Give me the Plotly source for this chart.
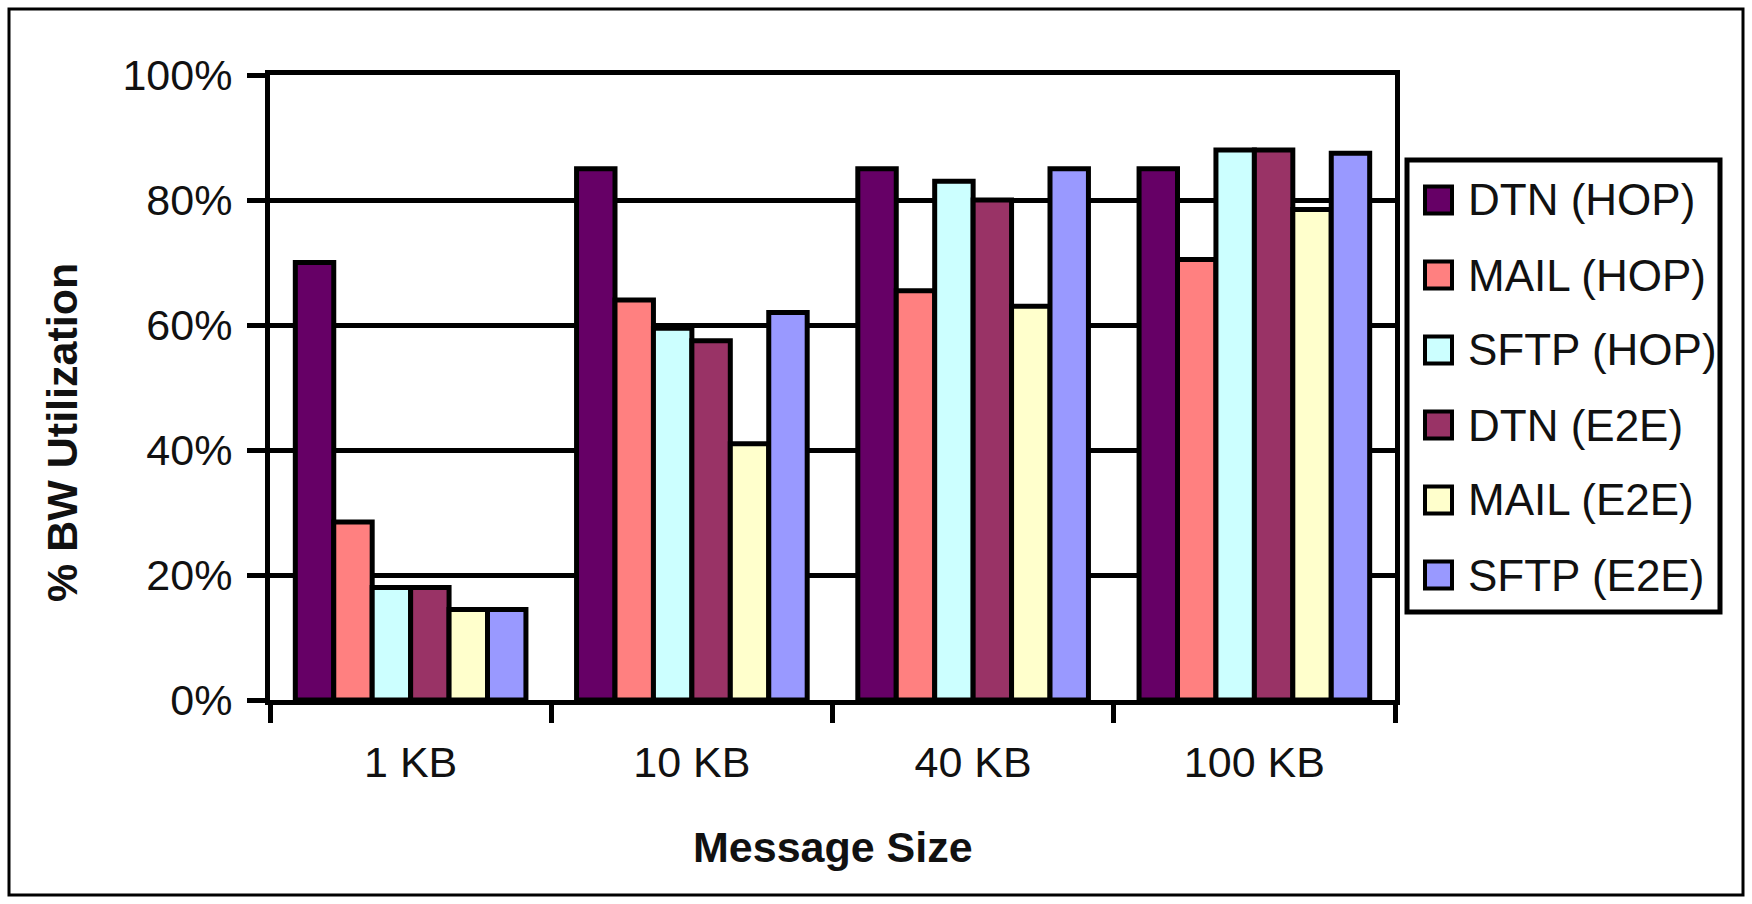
import plotly.graph_objects as go

# Message sizes on the category axis
categories = ["1 KB", "10 KB", "40 KB", "100 KB"]

# Bandwidth utilisation (%) per protocol, per message size
series_names = ["DTN (HOP)", "MAIL (HOP)", "SFTP (HOP)", "DTN (E2E)", "MAIL (E2E)", "SFTP (E2E)"]
dtn_hop = [70, 85, 85, 85]
mail_hop = [28.5, 64, 65.5, 70.5]
sftp_hop = [18, 59.5, 83, 88]
dtn_e2e = [18, 57.5, 80, 88]
mail_e2e = [14.5, 41, 63, 78.5]
sftp_e2e = [14.5, 62, 85, 87.5]

y_ticks = [0, 20, 40, 60, 80, 100]
y_tick_labels = ["0%", "20%", "40%", "60%", "80%", "100%"]

series_values = [dtn_hop, mail_hop, sftp_hop, dtn_e2e, mail_e2e, sftp_e2e]
colors = ["#660066", "#FF8080", "#CCFFFF", "#993366", "#FFFFCC", "#9999FF"]

FONT = "Liberation Sans, Arial, Helvetica, sans-serif"
INK = "#111111"

fig = go.Figure()

for name, vals, col in zip(series_names, series_values, colors):
    fig.add_trace(go.Bar(
        x=categories, y=vals, name=name,
        marker=dict(color=col, line=dict(color="black", width=5)),
        showlegend=False,
    ))

# Figure geometry in pixels
W, H = 1752, 904
L, R, T, B = 270, W - 1395, 75, H - 700
pw, ph = W - L - R, H - T - B

def px_x(x):
    return (x - L) / pw

def px_y(y):
    return (H - B - y) / ph

shapes = [
    # outer frame around the whole figure
    dict(type="rect", xref="paper", yref="paper",
         x0=px_x(9), x1=px_x(1743), y0=px_y(895), y1=px_y(9),
         line=dict(color="black", width=3), fillcolor="rgba(0,0,0,0)",
         layer="below"),
]
annotations = [
    dict(text="<b>% BW Utilization</b>", textangle=-90,
         xref="paper", yref="paper", x=px_x(62), y=px_y(433),
         xanchor="center", yanchor="middle", showarrow=False,
         font=dict(family=FONT, size=43, color=INK)),
    dict(text="<b>Message Size</b>",
         xref="paper", yref="paper", x=0.5, y=px_y(847),
         xanchor="center", yanchor="middle", showarrow=False,
         font=dict(family=FONT, size=43, color=INK)),
]

# Legend box with one swatch + label per series
LEG_X0, LEG_X1, LEG_Y0, LEG_Y1 = 1407, 1720, 160, 612
ROW0, ROW_H = 200, 75
SW_X0, SW = 1425, 27
TXT_X = 1466
shapes.append(dict(type="rect", xref="paper", yref="paper",
                   x0=px_x(LEG_X0), x1=px_x(LEG_X1),
                   y0=px_y(LEG_Y1), y1=px_y(LEG_Y0),
                   line=dict(color="black", width=5), fillcolor="white"))
for i, (name, col) in enumerate(zip(series_names, colors)):
    cy = ROW0 + i * ROW_H
    shapes.append(dict(type="rect", xref="paper", yref="paper",
                       x0=px_x(SW_X0), x1=px_x(SW_X0 + SW),
                       y0=px_y(cy + SW / 2), y1=px_y(cy - SW / 2),
                       line=dict(color="black", width=4), fillcolor=col))
    annotations.append(dict(text=name, xref="paper", yref="paper",
                            x=px_x(TXT_X), y=px_y(cy),
                            xanchor="left", yanchor="middle", showarrow=False,
                            font=dict(family=FONT, size=44, color=INK)))

fig.update_layout(
    width=W, height=H,
    margin=dict(l=L, r=R, t=T, b=B, autoexpand=False),
    paper_bgcolor="white", plot_bgcolor="white",
    barmode="group", bargap=0.18, bargroupgap=0,
    font=dict(family=FONT, color=INK, size=43),
    showlegend=False,
    xaxis=dict(
        type="category", categoryorder="array", categoryarray=categories,
        showgrid=False, showline=True, linecolor="black", linewidth=5,
        mirror=True, ticks="outside", tickson="boundaries",
        ticklen=18, tickwidth=5, tickcolor="black",
        tickfont=dict(family=FONT, size=43, color=INK),
        ticklabelstandoff=20, zeroline=False,
    ),
    yaxis=dict(
        range=[0, 100], tickmode="array", tickvals=y_ticks, ticktext=y_tick_labels,
        showgrid=True, gridcolor="black", gridwidth=5,
        showline=True, linecolor="black", linewidth=5, mirror=True,
        ticks="outside", ticklen=18, tickwidth=5, tickcolor="black",
        tickfont=dict(family=FONT, size=43, color=INK),
        ticklabelstandoff=6, zeroline=False,
    ),
    annotations=annotations,
    shapes=shapes,
)

fig.write_html("out.html")
